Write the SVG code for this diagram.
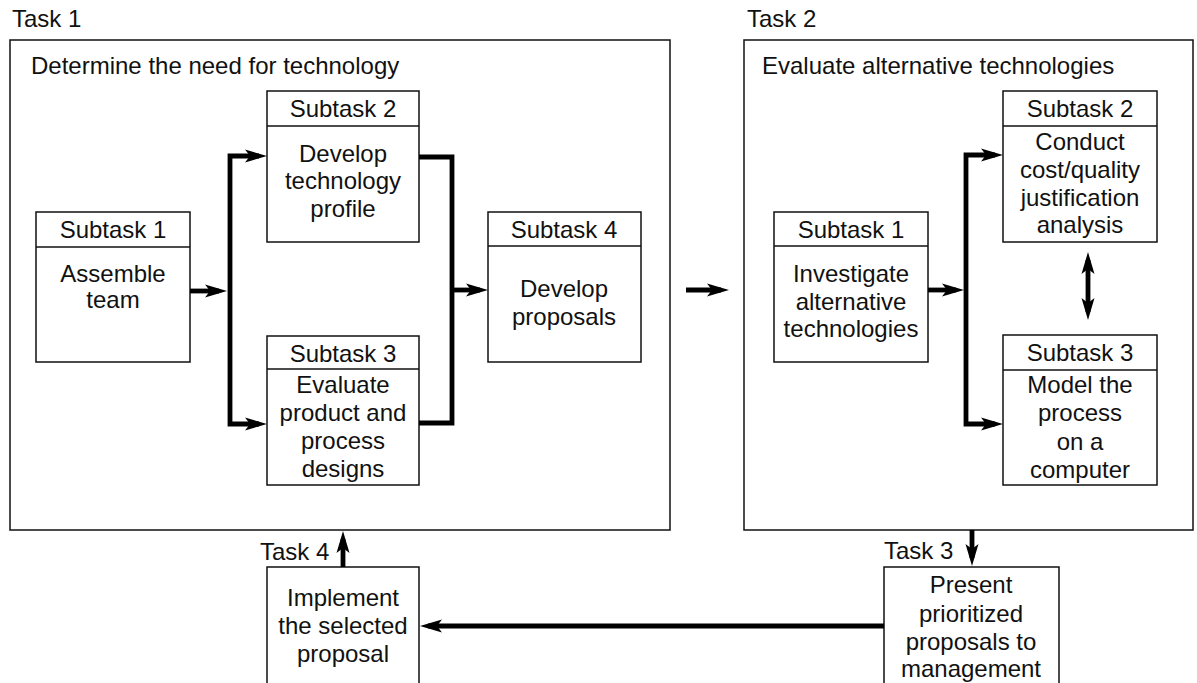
<svg xmlns="http://www.w3.org/2000/svg" width="1197" height="683" viewBox="0 0 1197 683">
  <style>
    text { font-family: "Liberation Sans", Arial, sans-serif; font-size: 24px; fill: #111; }
    .c { text-anchor: middle; }
    .frame { fill: none; stroke: #111; stroke-width: 1.5; }
    .box { fill: #fff; stroke: #111; stroke-width: 1.5; }
    .flow { fill: none; stroke: #000; stroke-width: 4.8; stroke-linejoin: miter; }
  </style>
  <defs>
    <!-- arrowhead tip sits 8px beyond the end of the line it caps -->
    <marker id="arrow" markerUnits="userSpaceOnUse" markerWidth="23" markerHeight="14" refX="14" refY="7" orient="auto-start-reverse">
      <path d="M0,0.5 L22,7 L0,13.5 L5,7 Z" fill="#000"/>
    </marker>
  </defs>

  <rect width="1197" height="683" fill="#fff"/>

  <!-- Task 1 frame -->
  <g id="task1">
    <text x="12" y="27">Task 1</text>
    <rect class="frame" x="10" y="40" width="660" height="490"/>
    <text x="31" y="74">Determine the need for technology</text>
  </g>

  <g id="t1-sub1">
    <rect class="box" x="36" y="212" width="154" height="150"/>
    <line class="frame" x1="36" y1="247" x2="190" y2="247"/>
    <text class="c" x="113" y="238">Subtask 1</text>
    <text class="c" x="113" y="282">Assemble</text>
    <text class="c" x="113" y="308">team</text>
  </g>

  <g id="t1-sub2">
    <rect class="box" x="267" y="91" width="152" height="151"/>
    <line class="frame" x1="267" y1="126" x2="419" y2="126"/>
    <text class="c" x="343" y="117">Subtask 2</text>
    <text class="c" x="343" y="162">Develop</text>
    <text class="c" x="343" y="189">technology</text>
    <text class="c" x="343" y="217">profile</text>
  </g>

  <g id="t1-sub3">
    <rect class="box" x="267" y="336" width="152" height="149"/>
    <line class="frame" x1="267" y1="369" x2="419" y2="369"/>
    <text class="c" x="343" y="362">Subtask 3</text>
    <text class="c" x="343" y="393">Evaluate</text>
    <text class="c" x="343" y="421">product and</text>
    <text class="c" x="343" y="449">process</text>
    <text class="c" x="343" y="477">designs</text>
  </g>

  <g id="t1-sub4">
    <rect class="box" x="488" y="212" width="153" height="150"/>
    <line class="frame" x1="488" y1="246" x2="641" y2="246"/>
    <text class="c" x="564" y="238">Subtask 4</text>
    <text class="c" x="564" y="297">Develop</text>
    <text class="c" x="564" y="325">proposals</text>
  </g>

  <!-- Task 2 frame -->
  <g id="task2">
    <text x="747" y="27">Task 2</text>
    <rect class="frame" x="744" y="40" width="449" height="490"/>
    <text x="762" y="74">Evaluate alternative technologies</text>
  </g>

  <g id="t2-sub1">
    <rect class="box" x="774" y="212" width="154" height="150"/>
    <line class="frame" x1="774" y1="246" x2="928" y2="246"/>
    <text class="c" x="851" y="238">Subtask 1</text>
    <text class="c" x="851" y="282">Investigate</text>
    <text class="c" x="851" y="310">alternative</text>
    <text class="c" x="851" y="337">technologies</text>
  </g>

  <g id="t2-sub2">
    <rect class="box" x="1003" y="91" width="154" height="151"/>
    <line class="frame" x1="1003" y1="126" x2="1157" y2="126"/>
    <text class="c" x="1080" y="117">Subtask 2</text>
    <text class="c" x="1080" y="150">Conduct</text>
    <text class="c" x="1080" y="178">cost/quality</text>
    <text class="c" x="1080" y="206">justification</text>
    <text class="c" x="1080" y="233">analysis</text>
  </g>

  <g id="t2-sub3">
    <rect class="box" x="1003" y="335" width="154" height="150"/>
    <line class="frame" x1="1003" y1="370" x2="1157" y2="370"/>
    <text class="c" x="1080" y="361">Subtask 3</text>
    <text class="c" x="1080" y="393">Model the</text>
    <text class="c" x="1080" y="421">process</text>
    <text class="c" x="1080" y="450">on a</text>
    <text class="c" x="1080" y="478">computer</text>
  </g>

  <!-- Task 3 -->
  <g id="task3">
    <text x="884" y="559">Task 3</text>
    <rect class="box" x="884" y="567" width="175" height="130"/>
    <text class="c" x="971" y="593">Present</text>
    <text class="c" x="971" y="622">prioritized</text>
    <text class="c" x="971" y="650">proposals to</text>
    <text class="c" x="971" y="677">management</text>
  </g>

  <!-- Task 4 -->
  <g id="task4">
    <text x="260" y="560">Task 4</text>
    <rect class="box" x="267" y="567" width="152" height="130"/>
    <text class="c" x="343" y="606">Implement</text>
    <text class="c" x="343" y="634">the selected</text>
    <text class="c" x="343" y="662">proposal</text>
  </g>

  <!-- Connectors -->
  <g id="connectors">
    <!-- Task 1 internal flow -->
    <line class="flow" x1="190" y1="291" x2="219" y2="291" marker-end="url(#arrow)"/>
    <polyline class="flow" points="259,156 230,156 230,424 259,424" marker-start="url(#arrow)" marker-end="url(#arrow)"/>
    <polyline class="flow" points="419,157 452,157 452,423 419,423"/>
    <line class="flow" x1="452" y1="290" x2="480" y2="290" marker-end="url(#arrow)"/>
    <!-- Task 1 to Task 2 -->
    <line class="flow" x1="686" y1="290" x2="721" y2="290" marker-end="url(#arrow)"/>
    <!-- Task 2 internal flow -->
    <line class="flow" x1="928" y1="290" x2="956" y2="290" marker-end="url(#arrow)"/>
    <polyline class="flow" points="995,155 966,155 966,424 995,424" marker-start="url(#arrow)" marker-end="url(#arrow)"/>
    <line class="flow" x1="1088" y1="260" x2="1088" y2="312" marker-start="url(#arrow)" marker-end="url(#arrow)"/>
    <!-- Task 2 to Task 3 -->
    <line class="flow" x1="972" y1="530" x2="972" y2="558" marker-end="url(#arrow)"/>
    <!-- Task 3 to Task 4 -->
    <line class="flow" x1="884" y1="626" x2="428" y2="626" marker-end="url(#arrow)"/>
    <!-- Task 4 back to Task 1 -->
    <line class="flow" x1="343" y1="567" x2="343" y2="539" marker-end="url(#arrow)"/>
  </g>
</svg>
